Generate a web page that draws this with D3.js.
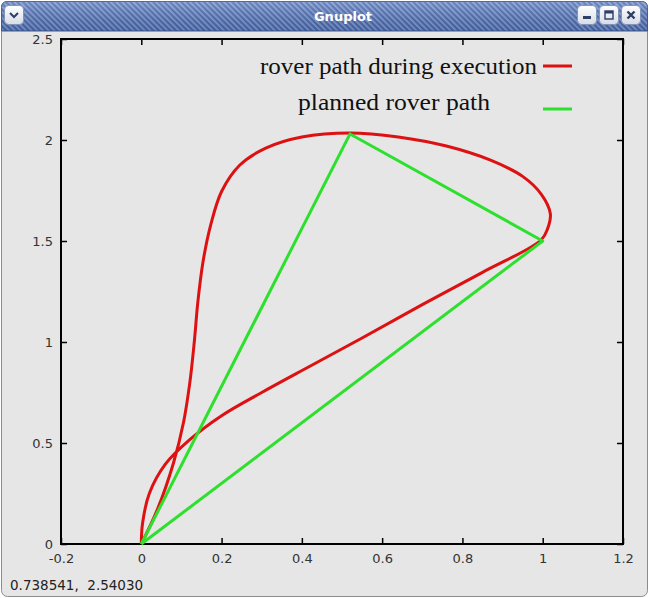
<!DOCTYPE html>
<html>
<head>
<meta charset="utf-8">
<script src="https://cdn.jsdelivr.net/npm/d3@7"></script>
<style>
  html, body { margin: 0; padding: 0; background: #ffffff; }
  svg { display: block; }
</style>
</head>
<body>
<svg id="win" width="649" height="598"></svg>
<script>
// Planned rover path: waypoints of the triangle (closed back to the start)
const plannedX = [0, 0.52, 1.0, 0];
const plannedY = [0, 2.03, 1.5, 0];

// Rover path recorded during execution (outbound up the left side, round the top,
// down to the second waypoint, then back to the start along the lower arc)
const roverX = [0, 0.04, 0.08, 0.105, 0.121, 0.132, 0.141, 0.154, 0.173, 0.2, 0.245, 0.31, 0.4, 0.52, 0.64, 0.76, 0.87, 0.95, 0.997, 1.019, 1.012, 0.996,
                0.85, 0.7, 0.55, 0.42, 0.3, 0.2, 0.12, 0.06, 0.02, 0.003, 0];
const roverY = [0, 0.17, 0.40, 0.60, 0.80, 1.0, 1.2, 1.4, 1.58, 1.745, 1.875, 1.96, 2.015, 2.035, 2.015, 1.97, 1.90, 1.82, 1.73, 1.635, 1.56, 1.505,
                1.345, 1.185, 1.02, 0.88, 0.75, 0.635, 0.515, 0.395, 0.25, 0.10, 0];

// Axis ticks
const xTicks = [-0.2, 0, 0.2, 0.4, 0.6, 0.8, 1, 1.2];
const yTicks = [0, 0.5, 1, 1.5, 2, 2.5];

// Key entries
const keyLabels = ["rover path during execution", "planned rover path"];
const keyColors = ["#dd1111", "#2ee02e"];

// Pointer readout shown in the status line
const statusText = "0.738541,  2.54030";

const svg = d3.select("#win");
const W = 649, H = 598;

// ---- window frame ----
const defs = svg.append("defs");
const hatch = defs.append("pattern")
  .attr("id", "hatch").attr("patternUnits", "userSpaceOnUse")
  .attr("width", 4).attr("height", 4)
  .attr("patternTransform", "rotate(-45)");
hatch.append("rect").attr("width", 4).attr("height", 4).attr("fill", "#4a69b0");
hatch.append("rect").attr("width", 1.6).attr("height", 4).attr("fill", "#86a2d8");

const shade = defs.append("linearGradient").attr("id", "shade")
  .attr("x1", 0).attr("y1", 0).attr("x2", 0).attr("y2", 1);
shade.append("stop").attr("offset", "0%").attr("stop-color", "#ffffff").attr("stop-opacity", 0.2);
shade.append("stop").attr("offset", "100%").attr("stop-color", "#000000").attr("stop-opacity", 0.12);

const btnGrad = defs.append("linearGradient").attr("id", "btn")
  .attr("x1", 0).attr("y1", 0).attr("x2", 0).attr("y2", 1);
btnGrad.append("stop").attr("offset", "0%").attr("stop-color", "#ffffff");
btnGrad.append("stop").attr("offset", "100%").attr("stop-color", "#d6dbe6");

svg.append("rect").attr("x", 1.5).attr("y", 1.5).attr("width", W - 3).attr("height", H - 3)
  .attr("rx", 6).attr("fill", "#e6e6e6").attr("stroke", "#8c8c8c");

const barPath = `M1.5,31 L1.5,7.5 Q1.5,1.5 7.5,1.5 L${W - 7.5},1.5 Q${W - 1.5},1.5 ${W - 1.5},7.5 L${W - 1.5},31 Z`;
svg.append("path").attr("d", barPath).attr("fill", "url(#hatch)").attr("stroke", "#3a5a9a");
svg.append("path").attr("d", barPath).attr("fill", "url(#shade)");

svg.append("text").attr("x", 343).attr("y", 21).attr("text-anchor", "middle")
  .attr("font-family", "DejaVu Sans, sans-serif").attr("font-weight", "bold")
  .attr("font-size", 13).attr("fill", "#ffffff").text("Gnuplot");

function button(x, kind) {
  const g = svg.append("g").attr("transform", `translate(${x},5)`);
  g.append("rect").attr("x", 0.5).attr("y", 0.5).attr("width", 19).attr("height", 19)
    .attr("rx", 4).attr("fill", "url(#btn)").attr("stroke", "#8093b8");
  const c = "#2e3f66";
  if (kind === "menu") {
    g.append("path").attr("d", "M6,8 L10,12 L14,8").attr("fill", "none")
      .attr("stroke", c).attr("stroke-width", 2);
  } else if (kind === "min") {
    g.append("rect").attr("x", 6).attr("y", 11).attr("width", 8).attr("height", 3).attr("fill", c);
  } else if (kind === "max") {
    g.append("rect").attr("x", 6).attr("y", 6).attr("width", 8).attr("height", 8)
      .attr("fill", "none").attr("stroke", c).attr("stroke-width", 1.4);
    g.append("rect").attr("x", 6).attr("y", 6).attr("width", 8).attr("height", 2.5).attr("fill", c);
  } else {
    g.append("path").attr("d", "M6.5,6.5 L13.5,13.5 M13.5,6.5 L6.5,13.5").attr("stroke", c)
      .attr("stroke-width", 2.4);
  }
}
button(4, "menu");
button(577, "min");
button(599, "max");
button(621, "close");

// ---- plot ----
const x = d3.scaleLinear().domain([-0.2, 1.2]).range([61, 623]);
const y = d3.scaleLinear().domain([0, 2.5]).range([544, 39]);

const tickFont = "DejaVu Sans, sans-serif";
const fmt = d => String(d);

const gx = svg.append("g").attr("transform", `translate(0,${y(0)})`)
  .call(d3.axisBottom(x).tickValues(xTicks).tickFormat(fmt).tickSizeInner(-6).tickSizeOuter(0).tickPadding(10));
const gxTop = svg.append("g").attr("transform", `translate(0,${y(2.5)})`)
  .call(d3.axisTop(x).tickValues(xTicks).tickFormat("").tickSizeInner(-6).tickSizeOuter(0));
const gy = svg.append("g").attr("transform", `translate(${x(-0.2)},0)`)
  .call(d3.axisLeft(y).tickValues(yTicks).tickFormat(fmt).tickSizeInner(-6).tickSizeOuter(0).tickPadding(8));
const gyR = svg.append("g").attr("transform", `translate(${x(1.2)},0)`)
  .call(d3.axisRight(y).tickValues(yTicks).tickFormat("").tickSizeInner(-6).tickSizeOuter(0));

[gx, gxTop, gy, gyR].forEach(g => {
  g.select(".domain").remove();
  g.selectAll(".tick line").attr("stroke", "#000").attr("stroke-width", 1.5);
  g.selectAll(".tick text").attr("font-family", tickFont).attr("font-size", 13).attr("fill", "#333");
});

// frame around the plotting area
svg.append("rect").attr("x", x(-0.2)).attr("y", y(2.5))
  .attr("width", x(1.2) - x(-0.2)).attr("height", y(0) - y(2.5))
  .attr("fill", "none").attr("stroke", "#000").attr("stroke-width", 2);

const rover = roverX.map((v, i) => [v, roverY[i]]);
svg.append("path").datum(rover)
  .attr("d", d3.line().x(d => x(d[0])).y(d => y(d[1])).curve(d3.curveCatmullRom.alpha(0.5)))
  .attr("fill", "none").attr("stroke", keyColors[0]).attr("stroke-width", 3)
  .attr("stroke-linejoin", "round");

const planned = plannedX.map((v, i) => [v, plannedY[i]]);
svg.append("path").datum(planned)
  .attr("d", d3.line().x(d => x(d[0])).y(d => y(d[1])))
  .attr("fill", "none").attr("stroke", keyColors[1]).attr("stroke-width", 3)
  .attr("stroke-linejoin", "round");

// ---- key ----
const keyFont = "Liberation Serif, Times New Roman, serif";
const keyText = [
  { x: 260, y: 74, w: 277 },
  { x: 298, y: 110, w: 192 }
];
const sampleY = [66, 109];
keyLabels.forEach((lab, i) => {
  svg.append("text").attr("x", keyText[i].x).attr("y", keyText[i].y)
    .attr("textLength", keyText[i].w).attr("lengthAdjust", "spacingAndGlyphs")
    .attr("font-family", keyFont).attr("font-size", 23).attr("fill", "#111").text(lab);
  svg.append("line").attr("x1", 543).attr("x2", 572)
    .attr("y1", sampleY[i]).attr("y2", sampleY[i])
    .attr("stroke", keyColors[i]).attr("stroke-width", 3);
});

// ---- status line ----
svg.append("text").attr("x", 10).attr("y", 590)
  .attr("font-family", tickFont).attr("font-size", 13.5).attr("fill", "#222")
  .style("white-space", "pre")
  .text(statusText);
</script>
</body>
</html>
